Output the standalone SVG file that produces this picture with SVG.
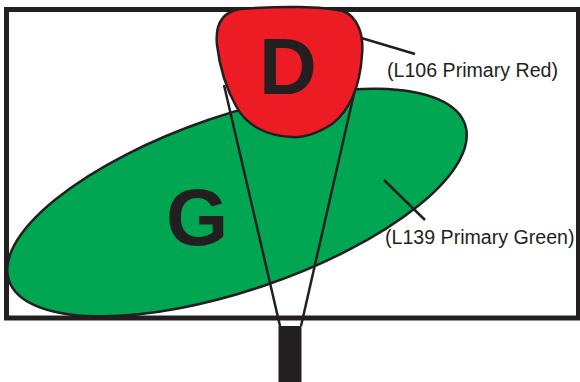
<svg xmlns="http://www.w3.org/2000/svg" width="580" height="382" viewBox="0 0 580 382">
<style>
.ol{stroke:#231f20;stroke-width:2.5;stroke-linejoin:round}
.ln{stroke:#231f20;stroke-width:2.5;fill:none;stroke-linecap:butt}
.big{font-family:"Liberation Sans",Arial,sans-serif;font-weight:bold;font-size:80px;fill:#231f20;text-anchor:middle}
.lbl{font-family:"Liberation Sans",Arial,sans-serif;font-size:19.6px;fill:#231f20}
</style>
<rect width="580" height="382" fill="#ffffff"/>
<g id="frame">
<rect x="6.5" y="9.5" width="572" height="308.5" fill="#ffffff" stroke="#231f20" stroke-width="5"/>
</g>
<g id="stand">
<rect x="278.5" y="326" width="23" height="56" fill="#231f20"/>
</g>
<g id="node-G">
<ellipse cx="237" cy="202.5" rx="241" ry="87.5" transform="rotate(-18.9 237 202.5)" fill="#00a651" class="ol"/>
<text class="big" x="197" y="245">G</text>
</g>
<g id="connectors">
<line class="ln" x1="224" y1="85" x2="280" y2="326"/>
<line class="ln" x1="356" y1="85" x2="301" y2="326"/>
<line class="ln" x1="348" y1="34" x2="415" y2="54"/>
<line class="ln" x1="384" y1="180" x2="425" y2="220"/>
</g>
<g id="node-D">
<path class="ol" fill="#ed1c24" d="M 240,9 C 280,6 322,6 343,11 C 358,17 364,35 362,55 C 360,85 350,110 332,124 C 317,134 302,138 292,137 C 266,136 246,125 236,106 C 226,88 220,70 217,45 C 215,25 222,12 240,9 Z"/>
<text class="big" x="288" y="94">D</text>
</g>
<g id="labels">
<text class="lbl" x="387" y="77">(L106 Primary Red)</text>
<text class="lbl" x="385" y="244">(L139 Primary Green)</text>
</g>
</svg>
